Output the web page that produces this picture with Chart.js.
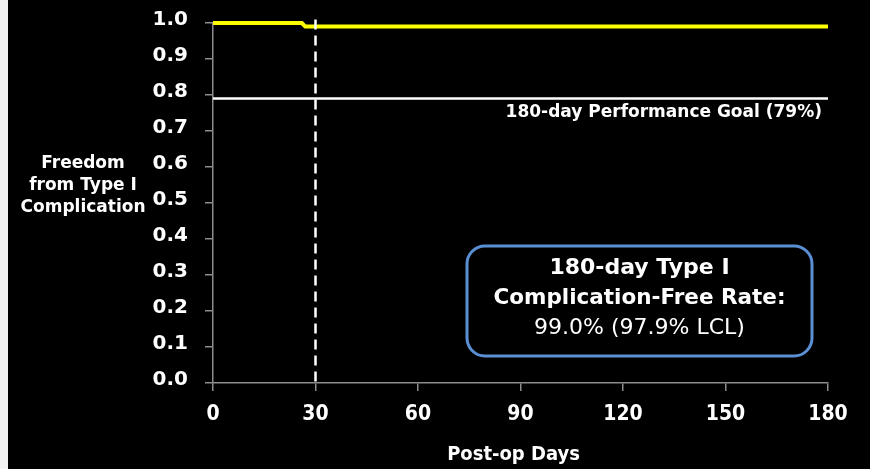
<!DOCTYPE html>
<html>
<head>
<meta charset="utf-8">
<title>Freedom from Type I Complication</title>
<script src="https://cdn.jsdelivr.net/npm/chart.js@4.4.1/dist/chart.umd.min.js"></script>
<style>
    html, body {
        margin: 0;
        padding: 0;
        background: #f2f2f2;
    }
    #wrap {
        position: absolute;
        left: 8px;
        top: 0;
        width: 862px;
        height: 469px;
        background: #000;
    }
</style>
</head>
<body>
<div id="wrap"><canvas id="kmChart" width="862" height="469"></canvas></div>
<script>
// Kaplan-Meier estimate, freedom from type I complication
const kmDays = [0, 26, 27, 180];
const kmFreedom = [1.0, 1.0, 0.99, 0.99];

// 180-day performance goal
const goalDays = [0, 180];
const goalRate = [0.79, 0.79];

// 30-day marker
const markerDays = [30, 30];
const markerSpan = [1.01, 0];

const xTickValues = [0, 30, 60, 90, 120, 150, 180];
const yTickValues = [0.0, 0.1, 0.2, 0.3, 0.4, 0.5, 0.6, 0.7, 0.8, 0.9, 1.0];

const yTitleLines = ['Freedom', 'from Type I', 'Complication'];
const goalLabel = '180-day Performance Goal (79%)';
const rateLines = ['180-day Type I', 'Complication-Free Rate:', '99.0% (97.9% LCL)'];

const WIDE = '"DejaVu Sans", sans-serif';
const NARROW = '"DejaVu Sans Condensed", "DejaVu Sans", sans-serif';
const AXIS_GRAY = '#8c8c8c';

function toPoints(xs, ys) {
    return xs.map((x, i) => ({ x: x, y: ys[i] }));
}

// text and the rate box drawn over the plot
const overlay = {
    id: 'overlay',
    afterDraw(chart) {
        const ctx = chart.ctx;
        const x = chart.scales.x;
        const y = chart.scales.y;
        ctx.save();
        ctx.fillStyle = '#fff';
        ctx.textBaseline = 'middle';

        // y axis title, horizontal
        ctx.font = 'bold 17px ' + WIDE;
        ctx.textAlign = 'center';
        yTitleLines.forEach((line, i) => {
            ctx.fillText(line, 75, 164 + i * 22);
        });

        // goal line label
        ctx.textAlign = 'right';
        ctx.font = 'bold 17px ' + WIDE;
        ctx.fillText(goalLabel, x.right - 6, y.getPixelForValue(goalRate[0]) + 14);

        // x axis title, a little left of centre
        ctx.textAlign = 'center';
        ctx.font = 'bold 20px ' + NARROW;
        ctx.fillText('Post-op Days', (x.left + x.right) / 2 - 7, 455);

        // rate box
        const bx = 459, by = 246, bw = 345, bh = 110;
        ctx.lineWidth = 3;
        ctx.strokeStyle = '#5b8fd4';
        ctx.beginPath();
        ctx.roundRect(bx, by, bw, bh, 18);
        ctx.stroke();

        const cx = bx + bw / 2;
        ctx.font = 'bold 22px ' + WIDE;
        ctx.fillText(rateLines[0], cx, 268);
        ctx.font = 'bold 21.5px ' + WIDE;
        ctx.fillText(rateLines[1], cx, 298);
        ctx.font = '22px ' + WIDE;
        ctx.fillText(rateLines[2], cx, 328);
        ctx.restore();
    }
};

const ctx = document.getElementById('kmChart').getContext('2d');
const kmChart = new Chart(ctx, {
    type: 'scatter',
    data: {
        datasets: [
            {
                label: '30 days',
                data: toPoints(markerDays, markerSpan),
                showLine: true,
                borderColor: '#ffffff',
                borderWidth: 2.5,
                borderDash: [10, 6],
                pointRadius: 0,
                clip: false
            },
            {
                label: 'Freedom from Type I Complication',
                data: toPoints(kmDays, kmFreedom),
                showLine: true,
                borderColor: '#ffff00',
                borderWidth: 4,
                pointRadius: 0,
                clip: false
            },
            {
                label: 'Performance Goal',
                data: toPoints(goalDays, goalRate),
                showLine: true,
                borderColor: '#ffffff',
                borderWidth: 2.5,
                pointRadius: 0
            }
        ]
    },
    options: {
        responsive: false,
        animation: false,
        layout: {
            padding: { top: 23, right: 42, left: 0, bottom: 0 }
        },
        plugins: {
            legend: { display: false },
            tooltip: { enabled: false }
        },
        scales: {
            x: {
                type: 'linear',
                min: 0,
                max: 180,
                afterBuildTicks: (scale) => {
                    scale.ticks = xTickValues.map(v => ({ value: v }));
                },
                afterFit: (scale) => {
                    scale.height = 86;
                },
                grid: {
                    drawOnChartArea: false,
                    color: AXIS_GRAY,
                    tickLength: 8,
                    lineWidth: 1.5
                },
                border: { color: AXIS_GRAY, width: 1.5 },
                ticks: {
                    color: '#fff',
                    padding: 11,
                    maxRotation: 0,
                    font: { family: NARROW, size: 21, weight: 'bold' }
                }
            },
            y: {
                type: 'linear',
                min: 0,
                max: 1,
                afterBuildTicks: (scale) => {
                    scale.ticks = yTickValues.map(v => ({ value: v }));
                },
                afterFit: (scale) => {
                    scale.width = 205;
                    // the layout padding already leaves room for the end labels
                    scale.paddingTop = 0;
                    scale.paddingBottom = 0;
                },
                grid: {
                    drawOnChartArea: false,
                    color: AXIS_GRAY,
                    tickLength: 8,
                    lineWidth: 1.5
                },
                border: { color: AXIS_GRAY, width: 1.5 },
                ticks: {
                    color: '#fff',
                    padding: 17,
                    labelOffset: -3,
                    callback: (value) => value.toFixed(1),
                    font: { family: WIDE, size: 20, weight: 'bold' }
                }
            }
        }
    },
    plugins: [overlay]
});
</script>
</body>
</html>
